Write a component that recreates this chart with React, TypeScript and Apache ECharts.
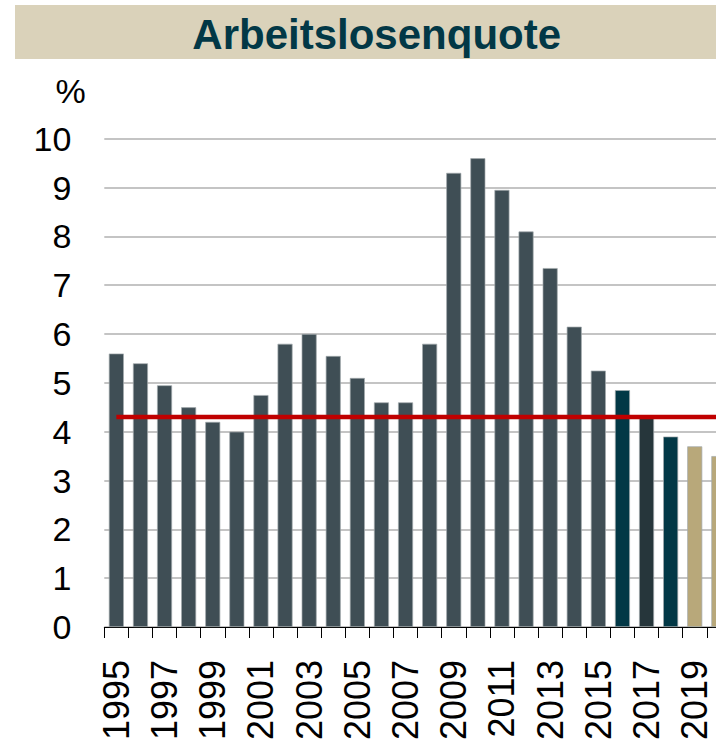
import React, { useEffect, useRef } from "react";
import * as echarts from "echarts";

const years = [
  "1995", "1996", "1997", "1998", "1999", "2000", "2001", "2002", "2003", "2004",
  "2005", "2006", "2007", "2008", "2009", "2010", "2011", "2012", "2013", "2014",
  "2015", "2016", "2017", "2018", "2019", "2020",
];
const rates = [
  5.6, 5.4, 4.95, 4.5, 4.2, 4.0, 4.75, 5.8, 6.0, 5.55,
  5.1, 4.6, 4.6, 5.8, 9.3, 9.6, 8.95, 8.1, 7.35, 6.15,
  5.25, 4.85, 4.3, 3.9, 3.7, 3.5,
];
const barGroup = [
  "hist", "hist", "hist", "hist", "hist", "hist", "hist", "hist", "hist", "hist",
  "hist", "hist", "hist", "hist", "hist", "hist", "hist", "hist", "hist", "hist",
  "hist", "teal", "dark", "teal", "fcst", "fcst",
];
const referenceLevel = 4.3;
const yTicks = [0, 10, 1]; // min, max, interval

const groupColors: Record<string, string> = {
  hist: "#3F4E55",
  teal: "#023846",
  dark: "#26363B",
  fcst: "#B8A87A",
};

const FONT = "'Liberation Sans', Arial, sans-serif";

export default function App() {
  const ref = useRef<HTMLDivElement>(null);

  useEffect(() => {
    document.body.style.margin = "0";
    if (!ref.current) return;
    const chart = echarts.init(ref.current, null, { renderer: "svg" });
    const option: any = {
      animation: false,
      backgroundColor: "#ffffff",
      grid: {
        left: 104.3,
        top: 138.7,
        width: 626.6,
        height: 488.3,
        containLabel: false,
        outerBoundsMode: "none",
      },
      graphic: [
        {
          type: "rect",
          shape: { x: 15, y: 5, width: 701, height: 54 },
          style: { fill: "#DAD2BA" },
          z: 0,
        },
        {
          type: "text",
          x: 376.7,
          y: 34,
          style: {
            text: "Arbeitslosenquote",
            fill: "#023846",
            font: `bold 42px ${FONT}`,
            textAlign: "center",
            textVerticalAlign: "middle",
          },
          z: 1,
        },
        {
          type: "text",
          x: 70.5,
          y: 91,
          style: {
            text: "%",
            fill: "#000000",
            font: `34px ${FONT}`,
            textAlign: "center",
            textVerticalAlign: "middle",
          },
        },
      ],
      xAxis: {
        type: "category",
        data: years,
        boundaryGap: true,
        axisLine: { show: true, lineStyle: { color: "#000000", width: 1 } },
        axisTick: {
          show: true,
          interval: 0,
          alignWithLabel: false,
          length: 11,
          lineStyle: { color: "#000000", width: 1 },
        },
        axisLabel: {
          interval: 1,
          rotate: 90,
          margin: 33,
          color: "#000000",
          fontFamily: FONT,
          fontSize: 36,
        },
        splitLine: { show: false },
      },
      yAxis: {
        type: "value",
        min: yTicks[0],
        max: yTicks[1],
        interval: yTicks[2],
        axisLine: { show: false },
        axisTick: { show: false },
        axisLabel: {
          margin: 33,
          color: "#000000",
          fontFamily: FONT,
          fontSize: 34,
        },
        splitLine: { show: true, lineStyle: { color: "#B0B0B0", width: 1.5 } },
      },
      series: [
        {
          type: "bar",
          barWidth: 15,
          data: rates.map((v, i) => ({
            value: v,
            itemStyle: {
              color: groupColors[barGroup[i]],
              borderColor: "#A3ABAE",
              borderWidth: 0.7,
            },
          })),
          z: 2,
        },
        {
          type: "line",
          data: years.map(() => referenceLevel),
          symbol: "none",
          lineStyle: { color: "#C00000", width: 4.5 },
          z: 5,
        },
      ],
    };
    chart.setOption(option);
    return () => chart.dispose();
  }, []);

  return <div ref={ref} style={{ width: 716, height: 744 }} />;
}
